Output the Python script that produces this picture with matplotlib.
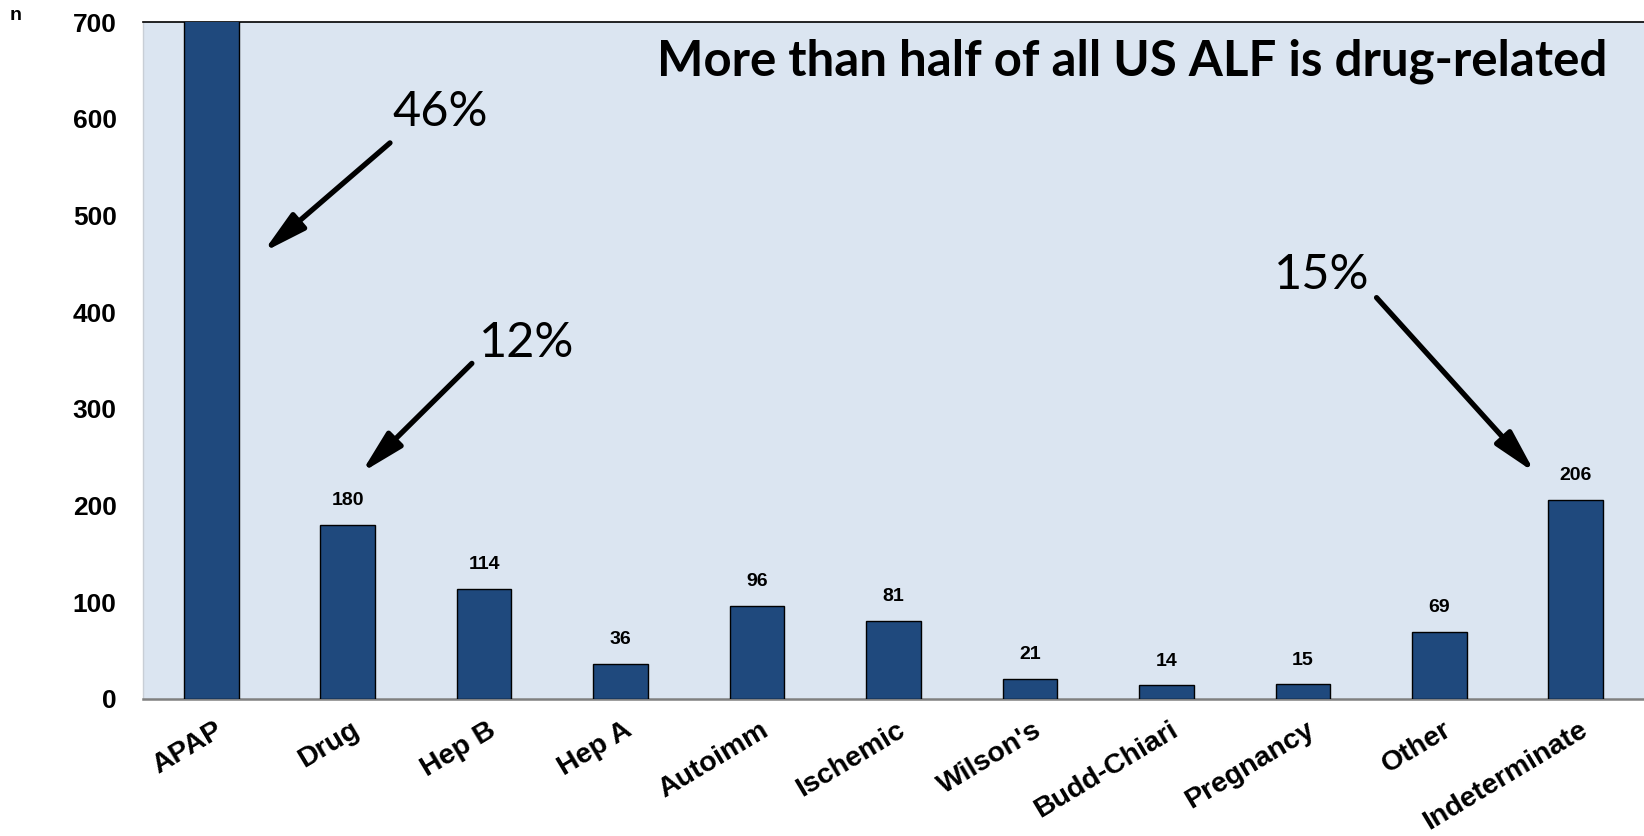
import matplotlib
matplotlib.use("Agg")
import matplotlib.pyplot as plt

# Acute liver failure aetiologies (US ALF Study Group)
categories = ["APAP", "Drug", "Hep B", "Hep A", "Autoimm", "Ischemic",
              "Wilson's", "Budd-Chiari", "Pregnancy", "Other", "Indeterminate"]
counts = [709, 180, 114, 36, 96, 81, 21, 14, 15, 69, 206]
labelled = [False, True, True, True, True, True, True, True, True, True, True]

y_ticks = [0, 100, 200, 300, 400, 500, 600, 700]
title = "More than half of all US ALF is drug-related"
callouts = ["46%", "12%", "15%"]

BAR = "#1F497D"
BG = "#DBE5F1"
SANS = ["Liberation Sans", "DejaVu Sans"]

fig = plt.figure(figsize=(16.44, 8.36), dpi=100)
ax = fig.add_axes([143 / 1644, 1 - 699 / 836, 1 - 143 / 1644, 677 / 836])
ax.set_facecolor(BG)

x = list(range(len(categories)))
ax.bar(x, counts, width=0.4, color=BAR, edgecolor="black", linewidth=1.0, zorder=3)
ax.set_xlim(-0.5, 10.5)
ax.set_ylim(0, 700)

for xi, v, show in zip(x, counts, labelled):
    if show:
        ax.annotate(str(v), (xi, v), xytext=(0, 17.5), textcoords="offset points",
                    ha="center", va="center", fontsize=14, fontweight="bold",
                    family=SANS, zorder=4)

ax.set_yticks(y_ticks)
ax.set_yticklabels([str(t) for t in y_ticks], fontsize=19, fontweight="bold", family=SANS)
ax.set_xticks(x)
ax.set_xticklabels(categories, fontsize=20.5, fontweight="bold", family=SANS,
                   rotation=31, ha="right", rotation_mode="anchor")
ax.tick_params(axis="both", length=0)
ax.tick_params(axis="y", pad=19)
ax.tick_params(axis="x", pad=13)
for lab in ax.get_xticklabels():
    lab.set_transform(lab.get_transform() +
                      matplotlib.transforms.ScaledTranslation(0.03, 0, fig.dpi_scale_trans))

ax.spines["right"].set_visible(False)
ax.spines["top"].set_color("black")
ax.spines["top"].set_linewidth(1.2)
ax.spines["left"].set_color("#C8CED6")
ax.spines["left"].set_linewidth(1.0)
ax.spines["bottom"].set_color("#808080")
ax.spines["bottom"].set_linewidth(1.8)

fig.text(16 / 1644, 1 - 15 / 836, "n", fontsize=14, fontweight="bold", family=SANS,
         ha="center", va="center")

# headline inside the plot area, right aligned
ttl = ax.text(10.23, 659, title, fontsize=34, fontweight="bold", family=["Lato", "DejaVu Sans"],
              ha="right", va="center", zorder=5)
fig.canvas.draw()
w = ttl.get_window_extent().width
ttl.set_fontsize(34 * 949 / w)

# share call-outs with arrows
arrow_kw = dict(arrowstyle="-|>,head_length=1.3,head_width=0.32", color="black",
                lw=3.8, mutation_scale=20, shrinkA=0, shrinkB=0)
callout_pos = [(1.68, 607), (2.31, 368), (8.14, 438)]
arrow_from = [(1.31, 575), (1.91, 347), (8.54, 415)]
arrow_to = [(0.38, 462), (1.10, 234), (9.70, 234)]
for txt, (tx, ty), a0, a1 in zip(callouts, callout_pos, arrow_from, arrow_to):
    ax.text(tx, ty, txt, fontsize=35, family=["Lato", "DejaVu Sans"],
            ha="center", va="center", zorder=5)
    ax.annotate("", xy=a1, xytext=a0, arrowprops=arrow_kw, zorder=5)

fig.savefig("out.png", dpi=100)
